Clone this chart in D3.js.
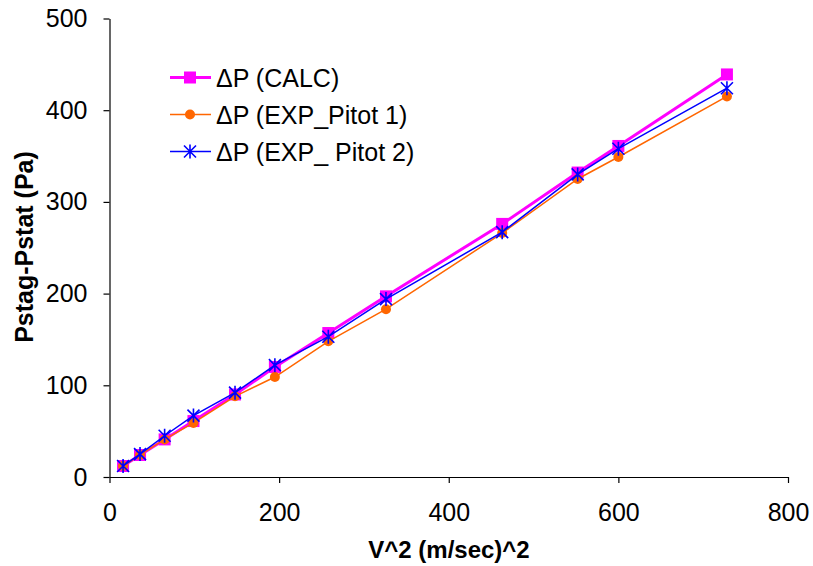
<!DOCTYPE html>
<html><head><meta charset="utf-8">
<script src="https://cdn.jsdelivr.net/npm/d3@7"></script>
<style>body{margin:0;background:#fff}svg{display:block}text{font-family:Arial,"Liberation Sans",sans-serif}</style>
</head><body>
<svg id="c" width="813" height="566"></svg>
<script>
const v2 = [16, 36, 65, 99, 148, 195, 258, 326, 463, 552, 600, 728];
const calc = [12, 24, 41, 61, 90, 120, 157, 197, 276, 332, 361, 439];
const pitot1 = [12, 24, 41, 59, 88, 109, 148, 183, 266, 325, 349, 415];
const pitot2 = [12, 25, 45, 67, 92, 122, 153, 194, 267, 330, 358, 424];
const xTicks = [0, 200, 400, 600, 800];
const yTicks = [0, 100, 200, 300, 400, 500];
const seriesNames = ["\u0394P (CALC)", "\u0394P (EXP_Pitot 1)", "\u0394P (EXP_ Pitot 2)"];

const svg = d3.select("#c");
const x = d3.scaleLinear().domain([0, 800]).range([109.5, 788]);
const y = d3.scaleLinear().domain([0, 500]).range([477, 18.5]);

const xAxis = svg.append("g").attr("transform", "translate(0,477)")
  .call(d3.axisBottom(x).tickValues(xTicks).tickSizeInner(6).tickSizeOuter(0).tickPadding(20).tickFormat(d3.format("d")));
const yAxis = svg.append("g").attr("transform", "translate(109.5,0)")
  .call(d3.axisLeft(y).tickValues(yTicks).tickSizeInner(6).tickSizeOuter(0).tickPadding(16).tickFormat(d3.format("d")));
[xAxis, yAxis].forEach(a => {
  a.selectAll("path,line").attr("stroke", "#000").attr("stroke-width", 1.2);
  a.selectAll("text").attr("font-size", 25).attr("fill", "#000").attr("font-family", "Arial, 'Liberation Sans', sans-serif");
});

svg.append("text").attr("x", 449).attr("y", 558).attr("text-anchor", "middle")
  .attr("font-size", 24).attr("font-weight", "bold").text("V^2 (m/sec)^2");
svg.append("text").attr("transform", "translate(33,247) rotate(-90)").attr("text-anchor", "middle")
  .attr("font-size", 25).attr("font-weight", "bold").text("Pstag-Pstat (Pa)");

const series = [
  {name: seriesNames[0], vals: calc, color: "#FF00FF", w: 3, marker: "square"},
  {name: seriesNames[1], vals: pitot1, color: "#FF6600", w: 1.5, marker: "circle"},
  {name: seriesNames[2], vals: pitot2, color: "#0000FF", w: 1.5, marker: "star"}
];

function drawMarker(g, m, color, cx, cy) {
  if (m === "square") {
    g.append("rect").attr("x", cx - 6).attr("y", cy - 6).attr("width", 12).attr("height", 12).attr("fill", color);
  } else if (m === "circle") {
    g.append("circle").attr("cx", cx).attr("cy", cy).attr("r", 5).attr("fill", color);
  } else {
    const s = 6;
    const p = `M${cx - s},${cy - s}L${cx + s},${cy + s}M${cx - s},${cy + s}L${cx + s},${cy - s}M${cx},${cy - s - 1}L${cx},${cy + s + 1}`;
    g.append("path").attr("d", p).attr("stroke", color).attr("stroke-width", 1.6).attr("fill", "none");
  }
}

const line = d3.line().x(d => x(d[0])).y(d => y(d[1]));
series.forEach(s => {
  const pts = v2.map((v, i) => [v, s.vals[i]]);
  const g = svg.append("g");
  g.append("path").attr("d", line(pts)).attr("fill", "none").attr("stroke", s.color).attr("stroke-width", s.w);
  pts.forEach(p => drawMarker(g, s.marker, s.color, x(p[0]), y(p[1])));
});

const leg = svg.append("g");
series.forEach((s, i) => {
  const ly = 77.5 + i * 37;
  leg.append("line").attr("x1", 170).attr("x2", 211).attr("y1", ly).attr("y2", ly).attr("stroke", s.color).attr("stroke-width", s.w);
  drawMarker(leg, s.marker, s.color, 190, ly);
  leg.append("text").attr("x", 216).attr("y", ly + 9).attr("font-size", 25).attr("fill", "#000").text(s.name);
});
</script>
</body></html>
